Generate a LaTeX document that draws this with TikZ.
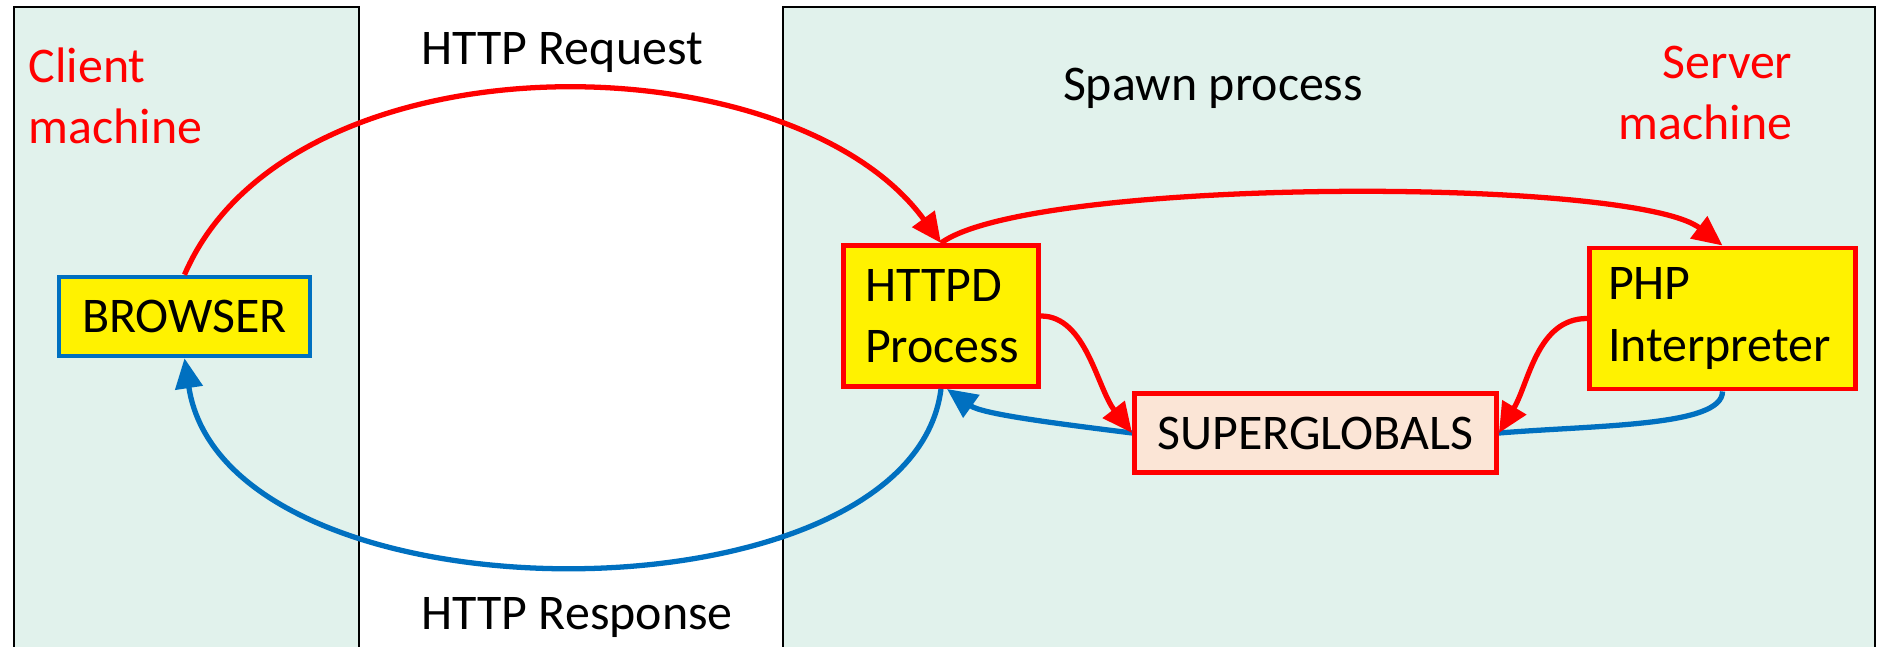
\documentclass[tikz,border=0pt]{standalone}
\usepackage{fontspec}
\setmainfont{Carlito}
\usepackage{tikz}
\usetikzlibrary{arrows.meta}
\definecolor{machinebg}{RGB}{225,242,236}
\definecolor{globalsbg}{RGB}{251,229,214}
\definecolor{respblue}{RGB}{0,112,192}
\definecolor{reqred}{RGB}{255,0,0}

\begin{document}
\begin{tikzpicture}[font=\fontsize{14.2pt}{17.5pt}\selectfont]

% TikZ styles
\tikzset{
  machine/.style={rectangle, draw=black, fill=machinebg, line width=0.6pt, minimum height=6.89cm, inner sep=0pt},
  proc/.style={rectangle, draw=reqred, fill=yellow, line width=1.4pt, align=left, minimum height=1.41cm},
  browserbox/.style={rectangle, draw=respblue, fill=yellow, line width=1.3pt, minimum width=2.51cm, minimum height=0.79cm},
  globalsbox/.style={rectangle, draw=reqred, fill=globalsbg, line width=1.4pt, minimum width=3.62cm, minimum height=0.79cm},
  machinetext/.style={text=reqred, inner sep=0pt},
  req/.style={-{Triangle[length=0.3cm, width=0.27cm]}, draw=reqred, line width=1.5pt},
  resp/.style={-{Triangle[length=0.3cm, width=0.27cm]}, draw=respblue, line width=1.5pt},
  respline/.style={draw=respblue, line width=1.5pt}
}
\useasboundingbox (0,0) rectangle (18.78,6.46);

%==========================
% Maschinen
%==========================
\node[machine, minimum width=3.45cm]  (client) at (1.865,2.945) {};
\node[machine, minimum width=10.92cm] (server) at (13.29,2.945) {};

\node[machinetext, anchor=base west, align=left]  (clienttext) at (0.28,5.02) {Client\\machine};
\node[machinetext, anchor=base east, align=right] (servertext) at (17.93,5.06) {Server\\machine};

\node (reqtext)   at (5.62,5.935) {HTTP Request};
\node (resptext)  at (5.77,0.285) {HTTP Response};
\node (spawntext) at (12.13,5.58) {Spawn process};

%==========================
% Kaesten
%==========================
\node[browserbox] (browser) at (1.845,3.295) {BROWSER};
\node[proc, minimum width=1.95cm, text width=1.52cm, inner xsep=0.215cm] (httpd) at (9.41,3.30) {HTTPD\\Process};
\node[proc, minimum width=2.66cm, text width=2.29cm, inner xsep=0.185cm] (php) at (17.225,3.275) {PHP\\Interpreter};
\node[globalsbox] (superglobals) at (13.155,2.13) {SUPERGLOBALS};

% Anfrage und Antwort
\draw[req] (browser.north) .. controls +(1.05,2.44) and +(-1.5,2.06) .. (httpd.north);
\draw[resp] (httpd.south) .. controls +(-0.3,-2.4) and +(0.41,-2.71) .. (browser.south);

% Server intern
\draw[req] (httpd.north) .. controls +(0.9,0.66) and +(-0.9,0.69) .. (php.north);
\draw[resp] (superglobals.west) .. controls +(-0.8,0.1) and +(0.35,-0.25) .. ([xshift=0.06cm]httpd.south);
\draw[respline] (php.south) .. controls +(0,-0.35) and +(1.0,0.08) .. (superglobals.east);
\draw[req] (httpd.east) .. controls +(0.45,0) and +(-0.35,0.45) .. (superglobals.west);
\draw[req] (php.west) .. controls +(-0.5,0) and +(0.3,0.5) .. (superglobals.east);
\end{tikzpicture}
\end{document}
